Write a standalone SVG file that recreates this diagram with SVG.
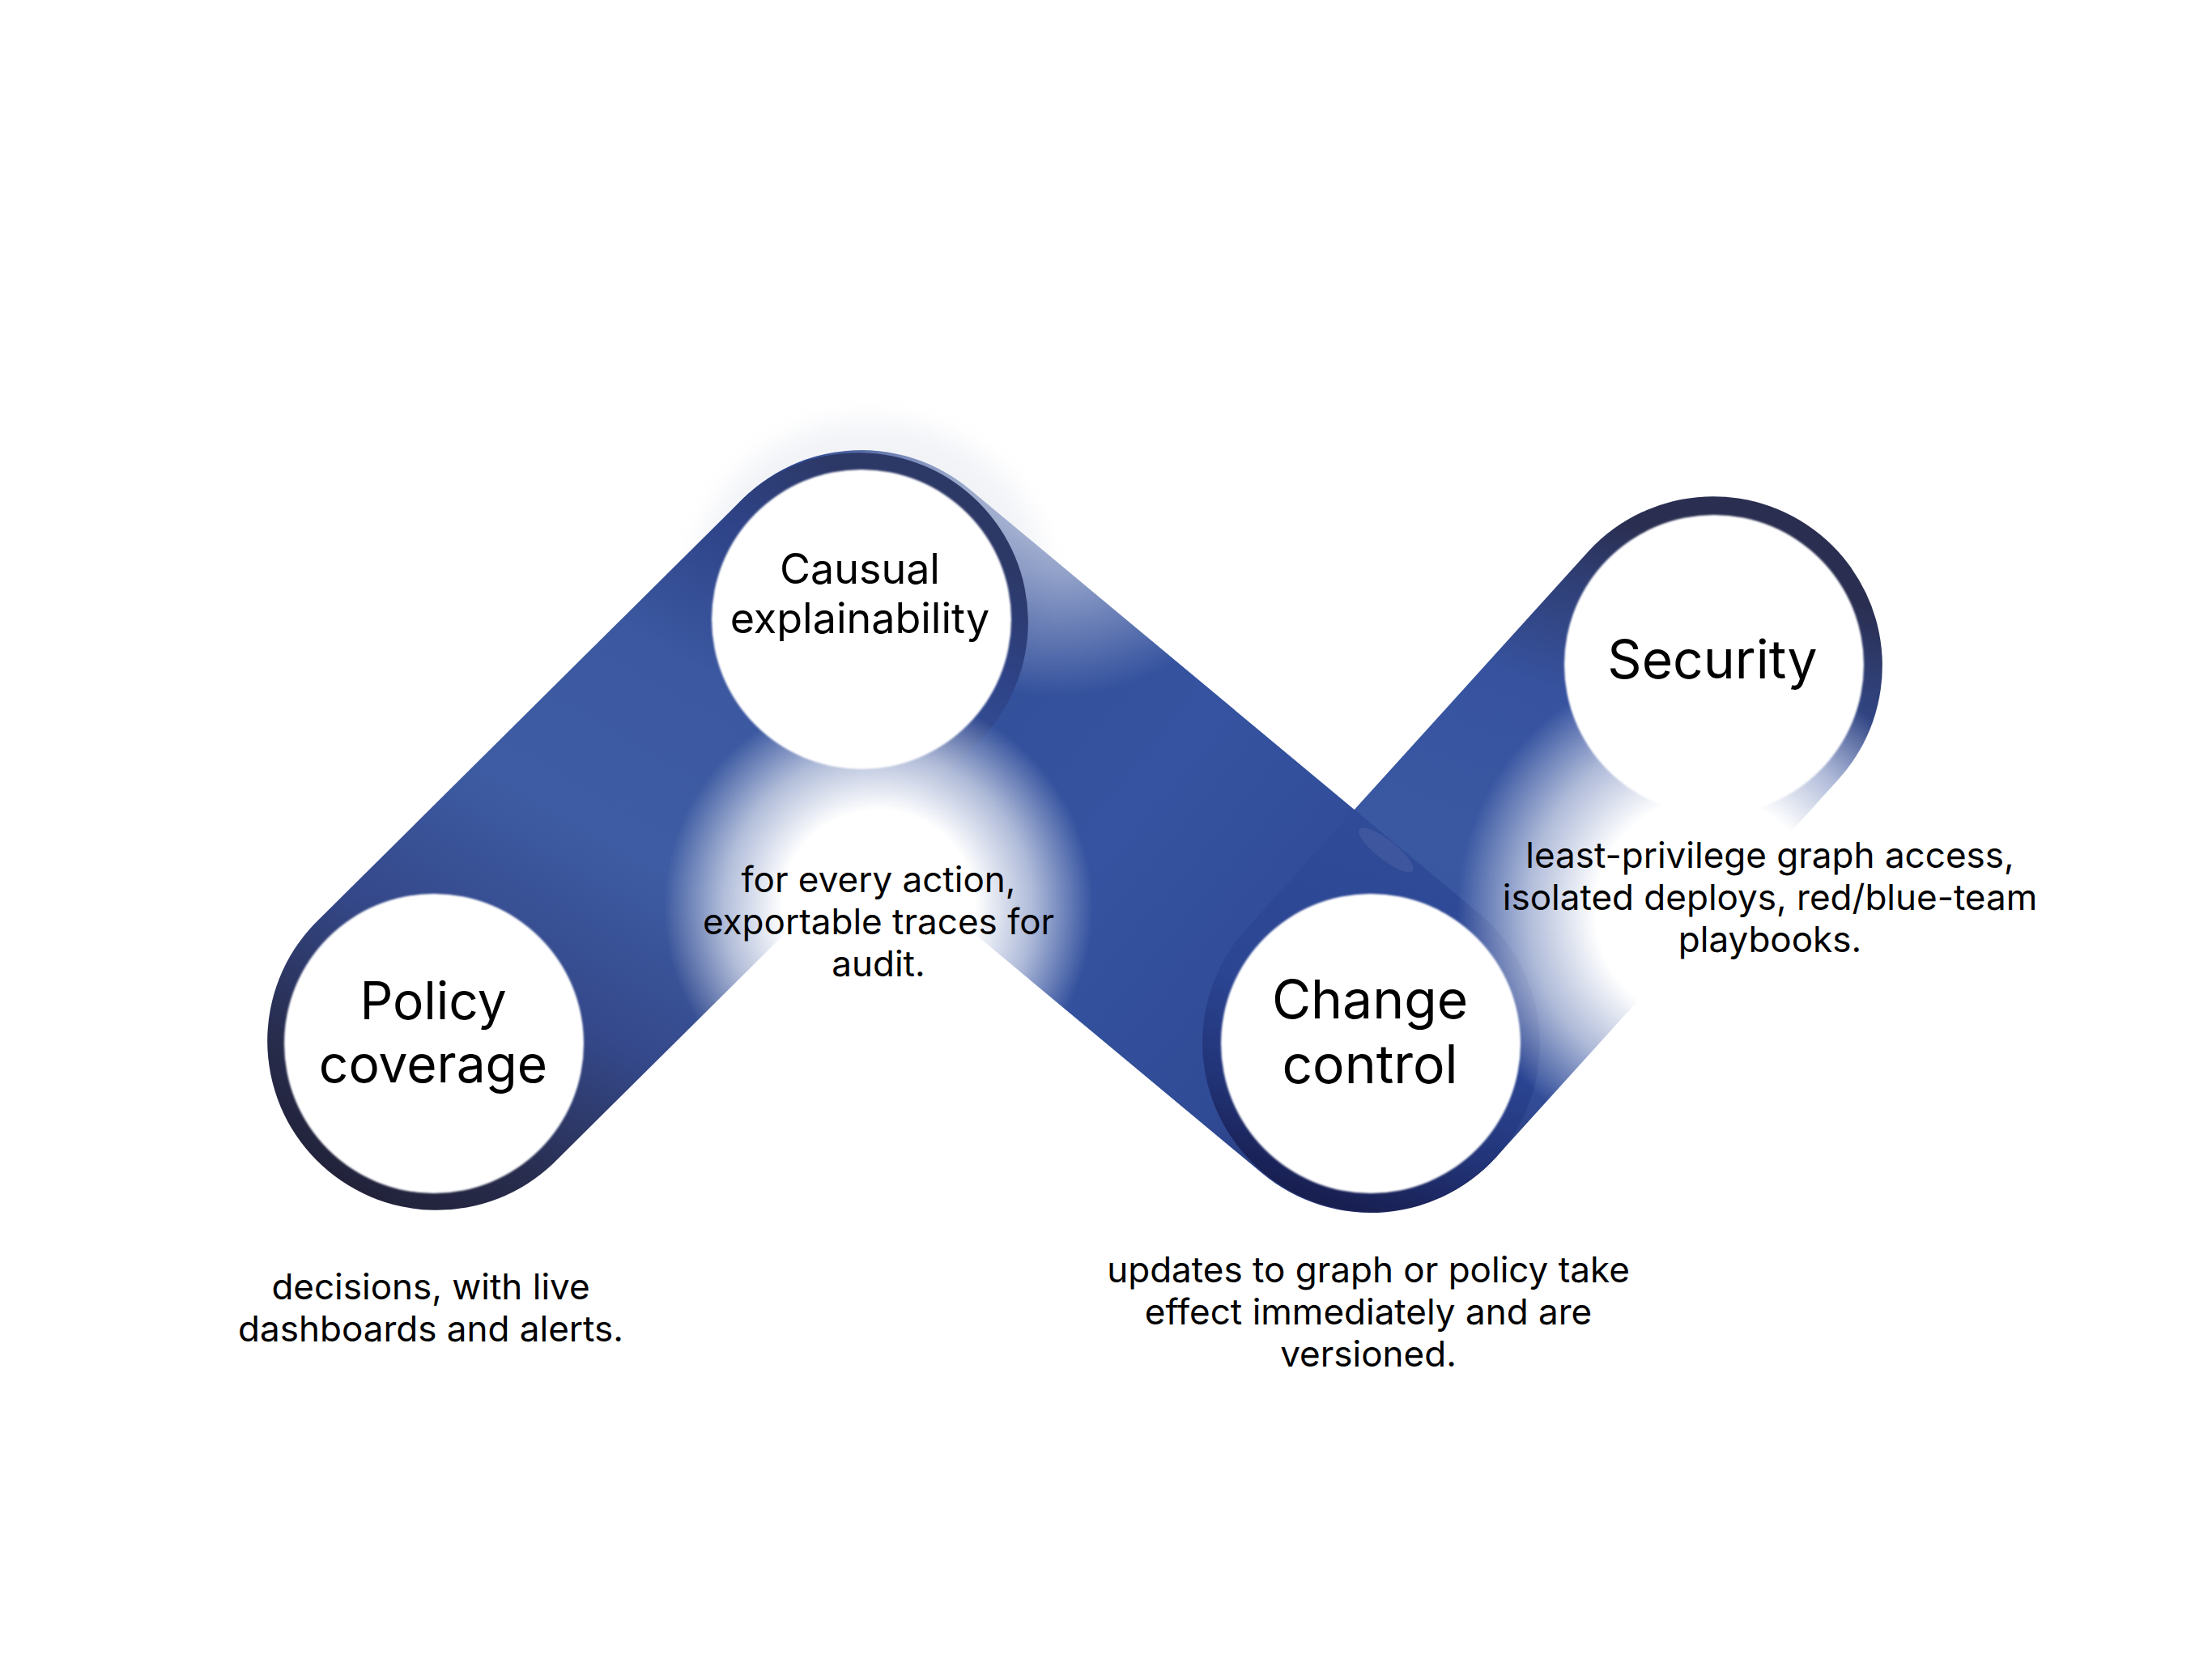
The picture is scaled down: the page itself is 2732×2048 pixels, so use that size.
<svg xmlns="http://www.w3.org/2000/svg" width="2732" height="2048" viewBox="0 0 2732 2048">
<defs>
<linearGradient id="g1" gradientUnits="userSpaceOnUse" x1="470" y1="1500" x2="1010" y2="560">
<stop offset="0" stop-color="#212138"/>
<stop offset="0.12" stop-color="#282d4e"/>
<stop offset="0.3" stop-color="#34488a"/>
<stop offset="0.5" stop-color="#3e5ca3"/>
<stop offset="0.72" stop-color="#3b58a0"/>
<stop offset="0.88" stop-color="#2e4388"/>
<stop offset="1" stop-color="#2c3866"/>
</linearGradient>
<linearGradient id="g2" gradientUnits="userSpaceOnUse" x1="903" y1="631" x2="1854" y2="1423">
<stop offset="0" stop-color="#2f4a92"/>
<stop offset="0.5" stop-color="#3553a0"/>
<stop offset="0.75" stop-color="#304b96"/>
<stop offset="1" stop-color="#1c2050"/>
</linearGradient>
<linearGradient id="g3" gradientUnits="userSpaceOnUse" x1="1700" y1="1510" x2="2000" y2="640">
<stop offset="0" stop-color="#1b1e46"/>
<stop offset="0.12" stop-color="#283a7a"/>
<stop offset="0.25" stop-color="#34509c"/>
<stop offset="0.5" stop-color="#3a58a2"/>
<stop offset="0.75" stop-color="#3753a0"/>
<stop offset="0.9" stop-color="#2f3f76"/>
<stop offset="1" stop-color="#2a2e50"/>
</linearGradient>
<radialGradient id="glow">
<stop offset="0" stop-color="#fff" stop-opacity="1"/>
<stop offset="0.45" stop-color="#fff" stop-opacity="1"/>
<stop offset="0.72" stop-color="#fff" stop-opacity="0.6"/>
<stop offset="1" stop-color="#fff" stop-opacity="0"/>
</radialGradient>
<radialGradient id="fadeGrad" gradientUnits="userSpaceOnUse" cx="1300" cy="560" r="300">
<stop offset="0" stop-color="#2a2a2a"/>
<stop offset="0.5" stop-color="#888"/>
<stop offset="1" stop-color="#fff"/>
</radialGradient>
<mask id="m2" maskUnits="userSpaceOnUse" x="0" y="0" width="2732" height="2048">
<rect width="2732" height="2048" fill="url(#fadeGrad)"/>
</mask>
<path id="cap1" d="M683.2,1437.3 L1211.2,913.3 A209,209 0 0 0 916.8,616.7 L388.8,1140.7 A209,209 0 0 0 683.2,1437.3 Z"/>
<path id="cap2" d="M930.2,925.6 L1559.2,1449.6 A209,209 0 0 0 1826.8,1128.4 L1197.8,604.4 A209,209 0 0 0 930.2,925.6 Z"/>
<path id="cap3" d="M1847.9,1429.3 L2271.9,961.3 A209,209 0 0 0 1962.1,680.7 L1538.1,1148.7 A209,209 0 0 0 1847.9,1429.3 Z"/>
<clipPath id="clip2"><use href="#cap2"/></clipPath>
<filter id="haze" x="-50%" y="-50%" width="200%" height="200%"><feGaussianBlur stdDeviation="16"/></filter>
<filter id="edge" x="-5%" y="-5%" width="110%" height="110%"><feGaussianBlur stdDeviation="1.2"/></filter>
</defs>
<style>
.title{font-family:Inter,"Noto Sans","Liberation Sans",sans-serif;fill:#000;text-anchor:middle}
.t64{font-size:64px}
.t66{font-size:66px}
.t52{font-size:52px}
.desc{font-family:Inter,"Noto Sans","Liberation Sans",sans-serif;font-size:44px;fill:#000;text-anchor:middle}
.disc{fill:#fff}
.glow{fill:url(#glow)}
</style>
<rect width="2732" height="2048" fill="#fff"/>
<ellipse cx="1075" cy="720" rx="215" ry="200" fill="#e4e7ef" opacity="0.5" filter="url(#haze)"/>
<g id="connectors">
<use href="#cap2" fill="url(#g2)" mask="url(#m2)"/>
<use href="#cap3" fill="url(#g3)"/>
<use href="#cap3" fill="#0d2270" opacity="0.22" clip-path="url(#clip2)"/>
<ellipse cx="1712" cy="1050" rx="42" ry="12" fill="#fff" opacity="0.07" transform="rotate(38 1712 1050)"/>
<use href="#cap1" fill="url(#g1)"/>
</g>
<g id="glows">
<circle class="glow" cx="1085" cy="1120" r="265"/>
<circle class="glow" cx="2110" cy="1125" r="310"/>
</g>
<g id="node-policy">
<circle class="disc" cx="536" cy="1289" r="185" filter="url(#edge)"/>
<text class="title t64" x="535" y="1259">Policy</text>
<text class="title t64" x="535" y="1337">coverage</text>
<text class="desc" x="532" y="1605">decisions, with live</text>
<text class="desc" x="532" y="1657">dashboards and alerts.</text>
</g>
<g id="node-causal">
<circle class="disc" cx="1064" cy="765" r="185" filter="url(#edge)"/>
<text class="title t52" x="1062" y="721">Causual</text>
<text class="title t52" x="1062" y="782">explainability</text>
<text class="desc" x="1085" y="1102">for every action,</text>
<text class="desc" x="1085" y="1154">exportable traces for</text>
<text class="desc" x="1085" y="1206">audit.</text>
</g>
<g id="node-change">
<circle class="disc" cx="1693" cy="1289" r="185" filter="url(#edge)"/>
<text class="title t66" x="1692" y="1258">Change</text>
<text class="title t66" x="1692" y="1338">control</text>
<text class="desc" x="1690" y="1584">updates to graph or policy take</text>
<text class="desc" x="1690" y="1636">effect immediately and are</text>
<text class="desc" x="1690" y="1688">versioned.</text>
</g>
<g id="node-security">
<circle class="disc" cx="2117" cy="821" r="185" filter="url(#edge)"/>
<text class="title t66" x="2115" y="838">Security</text>
<text class="desc" x="2186" y="1072">least-privilege graph access,</text>
<text class="desc" x="2186" y="1124">isolated deploys, red/blue-team</text>
<text class="desc" x="2186" y="1176">playbooks.</text>
</g>
</svg>
